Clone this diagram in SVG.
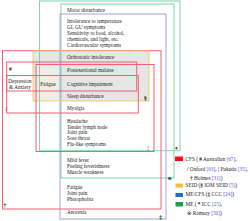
<svg xmlns="http://www.w3.org/2000/svg" width="250" height="221" viewBox="0 0 250 221">
<style>
.b{fill:none;stroke-width:1}
.r{stroke:#f06070}
.y{stroke:#f5cf70}
.l{stroke:#9ea2e2}
.g{stroke:#80d4b0}
text{font-family:"Liberation Serif","DejaVu Serif",serif;font-size:5.2px;fill:#222}
.m{font-weight:bold;font-size:5.5px;fill:#111}
.lg{font-size:5.3px}
.c{fill:#5a5ad0}
</style>
<rect width="250" height="221" fill="#fff"/>
<g id="fills">
<rect x="33" y="51" width="116" height="50" fill="#e6e6e6"/>
<rect x="36" y="64.5" width="24" height="36.5" fill="#efeee6"/>
</g>
<g id="connectors">
<rect id="me-icc" class="b g" x="39.5" y="1" width="140.5" height="149.7"/>
<rect id="me-ramsay" class="b g" x="61" y="4" width="113" height="174"/>
<rect id="mecfs-ccc" class="b l" x="60" y="14" width="106" height="205"/>
<rect id="cfs-holmes" class="b r" x="2.5" y="50.7" width="158.5" height="158.3"/>
<rect id="seid" class="b y" x="33" y="51" width="116" height="50"/>
<rect id="cfs-australian" class="b r" x="6.7" y="62" width="130" height="29"/>
<rect id="cfs-fukuda" class="b r" x="36" y="64.5" width="118" height="87"/>
<rect id="cfs-oxford" class="b r" x="6.7" y="75.5" width="131.6" height="37.5"/>
</g>
<g id="markers">
<text class="m" x="9" y="71">#</text>
<text class="m" x="5.5" y="110.5">/</text>
<text class="m" x="147.5" y="150">¦</text>
<text class="m" x="3.5" y="207">†</text>
<text class="m" x="144" y="99.5">§</text>
<text class="m" x="159.2" y="218.5">‡</text>
<text class="m" x="175" y="150.5">*</text>
<text class="m" x="167.5" y="179.8" style="font-family:'DejaVu Sans',sans-serif;font-size:5px">⊗</text>
</g>
<g id="symptoms">
<text x="67" y="11.8">Motor disturbance</text>
<text x="67" y="22.5">Intolerance to temperature</text>
<text x="67" y="28.5">GI, GU symptoms</text>
<text x="67" y="34.5">Sensitivity to food, alcohol,</text>
<text x="67" y="40.5">chemicals, and light, etc.</text>
<text x="67" y="46.8">Cardiovascular symptoms</text>
<text x="67" y="58.5">Orthostatic intolerance</text>
<text x="67" y="71.5">Postexertional malaise</text>
<text x="67" y="85.8">Cognitive impairment</text>
<text x="67" y="97.8">Sleep disturbance</text>
<text x="67" y="109.8">Myalgia</text>
<text x="67" y="122.5">Headache</text>
<text x="67" y="128.5">Tender lymph node</text>
<text x="67" y="134.3">Joint pain</text>
<text x="67" y="140.1">Sore throat</text>
<text x="67" y="146.1">Flu-like symptoms</text>
<text x="67" y="161.8">Mild fever</text>
<text x="67" y="168.1">Feeling feverishness</text>
<text x="67" y="174.1">Muscle weakness</text>
<text x="67" y="188.5">Fatigue</text>
<text x="67" y="194.5">Joint pain</text>
<text x="67" y="200.8">Photophobia</text>
<text x="67" y="213.5">Anorexia</text>
<text x="20" y="82.5" text-anchor="middle">Depression</text>
<text x="20" y="88.5" text-anchor="middle">&amp; Anxiety</text>
<text x="48" y="85.8" text-anchor="middle">Fatigue</text>
</g>
<g id="legend">
<rect x="175" y="156.5" width="8" height="4.5" fill="#ee1111"/>
<rect x="175.5" y="183.5" width="7.5" height="4" fill="#f7c02a"/>
<rect x="175.5" y="193" width="7.5" height="4" fill="#1a6fc4"/>
<rect x="175.5" y="202" width="7.5" height="4.5" fill="#1aa050"/>
<text class="lg" x="185.5" y="160.5">CFS ( <tspan font-weight="bold">#</tspan>  Australian <tspan class="c">[67]</tspan>,</text>
<text class="lg" x="187" y="170.5"><tspan font-weight="bold">/</tspan> Oxford <tspan class="c">[63]</tspan>, <tspan font-weight="bold">¦</tspan> Fukuda <tspan class="c">[35]</tspan>,</text>
<text class="lg" x="190" y="179.5"><tspan font-weight="bold">†</tspan> Holmes <tspan class="c">[31]</tspan>)</text>
<text class="lg" x="185.5" y="187">SEID (<tspan font-weight="bold">§</tspan> IOM SEID <tspan class="c">[5]</tspan>)</text>
<text class="lg" x="185.5" y="196">ME/CFS (<tspan font-weight="bold">‡</tspan> CCC <tspan class="c">[24]</tspan>)</text>
<text class="lg" x="185.5" y="206">ME ( <tspan font-weight="bold">*</tspan> ICC <tspan class="c">[25]</tspan>,</text>
<text class="lg" x="187" y="214.5"><tspan style="font-family:'DejaVu Sans',sans-serif">⊗</tspan> Ramsay <tspan class="c">[50]</tspan>)</text>
</g>
</svg>
